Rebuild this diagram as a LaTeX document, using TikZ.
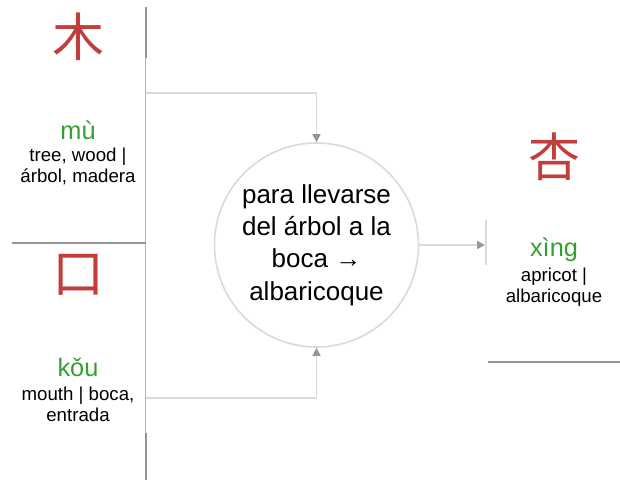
\documentclass[tikz,border=0pt]{standalone}
\usepackage{fontspec}
\setmainfont{Liberation Sans}
\newfontfamily\cjk{Noto Sans CJK SC}
\usetikzlibrary{arrows.meta}

\definecolor{hanzired}{RGB}{192,62,60}
\definecolor{pinyingreen}{RGB}{52,160,52}
\definecolor{panelgray}{RGB}{150,150,150}
\definecolor{linkgray}{RGB}{218,218,218}
\definecolor{tipgray}{RGB}{150,150,150}

\tikzset{every picture/.style={line width=0.75pt}}
\tikzset{
  hanzi/.style={text=hanzired,font=\cjk\fontsize{39}{42}\selectfont,inner sep=0pt},
  pinyin/.style={text=pinyingreen,font=\fontsize{19}{21}\selectfont,inner sep=0pt},
  gloss/.style={align=center,font=\fontsize{14}{15.8}\selectfont,inner sep=0pt},
  panel/.style={draw=panelgray,line width=1.2pt},
  panelthin/.style={draw=panelgray!70,line width=0.75pt},
  link/.style={draw=linkgray,line width=1.2pt,-{Triangle[length=6pt,width=6pt,color=tipgray]}}
}

\begin{document}
\begin{tikzpicture}[x=0.75pt,y=0.75pt,yscale=-1,xscale=1]
        \useasboundingbox (0,0) rectangle (620,480);

        %Straight Lines [panel borders]
        \draw[panel] (146,7) -- (146,58) ;
        \draw[panelthin] (145,58) -- (145,433) ;
        \draw[panel] (146,433) -- (146,480) ;
        \draw[panel] (12,243) -- (146,243) ;
        \draw[panel] (488,362) -- (620,362) ;
        \draw[draw=linkgray,line width=1.2pt] (486,220) -- (486,265) ;

        %Text nodes [left top]
        \node[hanzi] (mu) at (78,37) {木};
        \node[pinyin] (mupy) at (78,130) {mù};
        \node[gloss] (mugl) at (78,166) {tree, wood |\\árbol, madera};

        %Text nodes [left bottom]
        \node[hanzi] (kou) at (78,275) {口};
        \node[pinyin] (koupy) at (78,367) {kǒu};
        \node[gloss] (kougl) at (78,404) {mouth | boca,\\entrada};

        %Text nodes [right]
        \node[hanzi] (xing) at (554,157) {杏};
        \node[pinyin] (xingpy) at (554,250) {xìng};
        \node[gloss] (xinggl) at (554,287) {apricot |\\albaricoque};

        %Shape: Circle [center]
        \node[circle,draw=linkgray,line width=1.2pt,minimum size=153pt,inner sep=0pt,
              align=center,font=\fontsize{19.5}{24.2}\selectfont] (circ) at (316.5,245)
              {para llevarse\\del árbol a la\\boca →\\albaricoque};

        %Connectors
        \coordinate (intop) at (146,93);
        \coordinate (inbot) at (146,398);
        \coordinate (outr) at (485,245);
        \draw[link] (intop) -| (circ.north) ;
        \draw[link] (inbot) -| (circ.south) ;
        \draw[link] (circ.east) -- (outr) ;

\end{tikzpicture}
\end{document}
